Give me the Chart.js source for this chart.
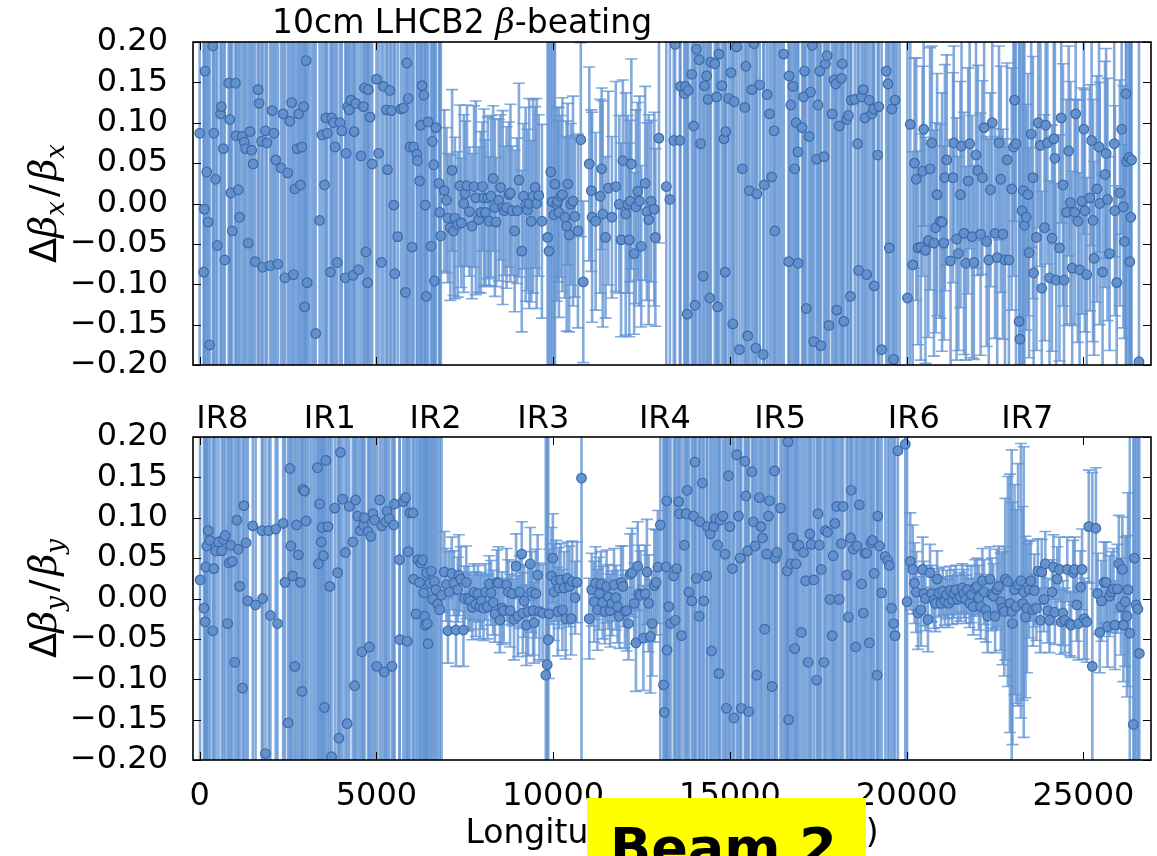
<!DOCTYPE html>
<html>
<head>
<meta charset="utf-8">
<title>10cm LHCB2 β-beating</title>
<script src="https://cdn.jsdelivr.net/npm/chart.js@4/dist/chart.umd.min.js"></script>
<style>
  html, body { margin: 0; padding: 0; background: #fff; }
  #wrap { position: relative; width: 1157px; height: 856px; overflow: hidden; background: #fff; }
  canvas { position: absolute; left: 0; }
  #beam {
    position: absolute; left: 587px; top: 798px; width: 279px; height: 80px;
    background: #ffff00; box-sizing: border-box; padding-left: 23px; padding-top: 23px;
    font: bold 54px "DejaVu Sans", sans-serif; line-height: 54px; color: #000; white-space: nowrap;
  }
</style>
</head>
<body>
<div id="wrap">
  <canvas id="cx" width="1157" height="406" style="top:0;width:1157px;height:406px"></canvas>
  <canvas id="cy" width="1157" height="476" style="top:380px;width:1157px;height:476px"></canvas>
  <div id="beam">Beam 2</div>
</div>
<script>
// Horizontal beta-beating per BPM: [s (m), Δβx/βx, error]; |Δβ/β| > 0.2 lies off the plotted range
const horizontalBpms = [
  [0,0.087,0.5],[110,-0.085,0.5],[130,-0.007,0.5],[150,0.164,0.5],[200,0.039,0.5],[240,-0.023,0.5],[280,-0.175,0.5],[370,0.195,0.5],[400,0.087,0.5],[450,0.03,0.5],
  [500,-0.052,0.5],[590,0.111,0.5],[610,0.12,0.5],[670,0.068,0.5],[710,-0.07,0.5],[820,0.149,0.5],[850,0.104,0.5],[880,0.013,0.5],[920,-0.034,0.5],[1010,0.149,0.5],
  [1030,0.084,0.5],[1090,0.017,0.5],[1130,-0.017,0.5],[1200,0.083,0.5],[1260,0.076,0.5],[1300,0.068,0.5],[1370,-0.049,0.5],[1420,0.089,0.5],[1470,0.066,0.5],[1510,0.049,0.5],
  [1570,-0.072,0.5],[1650,0.141,0.5],[1680,0.124,0.5],[1750,0.077,0.5],[1780,-0.079,0.5],[1860,0.09,0.5],[1900,0.075,0.5],[1990,-0.077,0.5],[2050,0.115,0.5],[2100,0.087,0.5],
  [2150,0.054,0.5],[2210,-0.075,0.5],[2300,0.044,0.5],[2360,0.111,0.5],[2410,-0.092,0.5],[2490,0.038,0.5],[2550,0.102,0.5],[2600,0.125,0.5],[2650,-0.088,0.5],[2690,0.018,0.5],
  [2760,0.068,0.5],[2800,0.111,0.5],[2850,0.023,0.5],[2890,0.07,0.5],[2940,0.12,0.5],[2970,-0.128,0.5],[3010,0.177,0.5],[3040,-0.098,0.5],[3100,0.24,0.5],[3170,-0.23,0.5],
  [3230,0.26,0.5],[3280,-0.161,0.5],[3390,-0.021,0.5],
  [3460,0.085,0.5],[3530,0.023,0.5],[3570,0.106,0.5],[3610,0.087,0.5],[3700,-0.085,0.5],[3730,0.106,0.5],[3780,0.1,0.5],[3830,0.07,0.5],[3890,-0.073,0.5],[3970,0.1,0.5],
  [4020,0.09,0.5],[4120,-0.092,0.5],[4140,0.062,0.5],[4190,0.12,0.5],[4230,0.116,0.5],[4280,0.128,0.5],[4340,-0.089,0.5],[4370,0.089,0.5],[4410,0.124,0.5],[4490,-0.082,0.5],
  [4560,0.059,0.5],[4630,0.12,0.5],[4660,0.143,0.5],[4700,-0.06,0.5],[4750,-0.098,0.5],[4770,0.141,0.5],[4820,0.107,0.5],[4880,0.049,0.5],[5000,0.154,0.5],[5060,0.062,0.5],
  [5140,-0.073,0.5],[5200,0.145,0.5],[5280,0.116,0.5],[5310,0.042,0.5],[5380,0.14,0.5],[5420,0.115,0.5],[5490,-0.002,0.5],[5520,-0.087,0.5],[5600,-0.041,0.5],[5690,0.117,0.5],
  [5760,0.118,0.5],[5820,-0.11,0.5],[5860,0.174,0.5],[5900,0.13,0.5],[5950,0.07,0.5],[6010,-0.054,0.5],[6050,0.07,0.5],[6140,0.061,0.5],[6160,0.053,0.5],[6220,0.028,0.5],
  [6250,0.097,0.5],[6290,0.146,0.5],[6340,0.134,0.5],[6380,-0.002,0.5],[6410,-0.115,0.5],[6460,0.101,0.5],[6540,-0.053,0.5],[6580,0.077,0.5],[6620,0.048,0.5],[6640,-0.096,0.5],
  [6680,0.094,0.5],[6770,0.025,0.5],[6790,-0.011,0.5],[6820,-0.04,0.5],
  [6920,0.016,0.1],[6980,0.004,0.09],[7020,-0.018,0.08],[7090,-0.03,0.09],[7140,0.041,0.1],[7180,-0.034,0.08],[7220,-0.018,0.1],[7300,-0.026,0.09],[7360,0.022,0.1],[7400,-0.024,0.08],
  [7470,0.0,0.11],[7510,0.012,0.09],[7560,0.022,0.1],[7630,-0.01,0.08],[7700,-0.028,0.09],[7760,0.021,0.1],[7810,0.007,0.12],[7890,-0.02,0.09],[7950,-0.011,0.1],[8000,0.021,0.08],
  [8040,0.007,0.11],[8080,-0.011,0.09],[8150,0.007,0.1],[8190,-0.022,0.08],[8240,0.009,0.1],[8300,0.031,0.09],[8350,-0.005,0.11],[8380,-0.023,0.08],[8460,0.004,0.1],[8510,0.02,0.09],
  [8570,-0.005,0.12],[8620,-0.009,0.08],[8680,-0.005,0.1],[8750,0.011,0.09],[8790,0.013,0.11],[8840,-0.009,0.08],[8910,-0.034,0.1],[8980,-0.009,0.09],[9030,0.029,0.12],[9110,-0.059,0.1],
  [9160,0.009,0.09],[9220,-0.001,0.12],[9270,-0.008,0.1],[9320,0.0,0.13],[9380,-0.022,0.1],[9430,0.009,0.12],[9490,0.02,0.1],[9530,0.0,0.13],[9590,0.01,0.1],[9680,-0.022,0.12],
  [9840,-0.042,0.5],[9880,-0.059,0.5],[9930,0.039,0.5],[9970,0.002,0.5],[10020,-0.014,0.5],[10050,0.024,0.5],
  [10100,-0.001,0.12],[10130,0.003,0.1],[10160,-0.011,0.13],[10210,0.009,0.1],[10260,0.011,0.12],[10330,-0.017,0.1],[10380,-0.028,0.13],[10410,0.024,0.1],[10450,-0.039,0.12],[10500,-0.001,0.1],
  [10560,0.003,0.13],[10610,-0.016,0.1],[10700,-0.034,0.12],[10780,0.079,0.12],[10850,-0.097,0.1],[11020,0.049,0.12],[11080,0.016,0.1],[11100,-0.017,0.13],[11200,-0.022,0.11],[11330,0.009,0.12],
  [11370,0.043,0.1],[11400,-0.013,0.14],[11480,-0.042,0.1],[11560,0.019,0.12],[11660,-0.017,0.1],[11770,0.021,0.13],[11870,-0.001,0.11],[11920,-0.045,0.12],[11970,0.053,0.1],[12050,-0.013,0.15],
  [12110,-0.001,0.11],[12150,-0.045,0.12],[12180,0.003,0.1],[12210,0.049,0.13],[12290,-0.062,0.1],[12340,-0.004,0.12],[12390,0.015,0.11],[12440,0.003,0.13],[12490,-0.053,0.1],[12600,0.025,0.12],
  [12650,-0.01,0.11],[12700,-0.02,0.13],[12770,0.003,0.1],[12860,-0.007,0.12],[12890,-0.042,0.11],[12990,0.081,0.13],
  [13200,0.021,0.5],[13300,0.005,0.5],[13410,0.078,0.5],[13450,0.197,0.5],[13580,0.078,0.5],[13600,0.145,0.5],[13710,0.136,0.5],[13740,0.145,0.5],[13790,-0.137,0.5],[13820,0.14,0.5],
  [13920,0.16,0.5],[13970,0.096,0.5],[14010,-0.126,0.5],[14050,0.191,0.5],[14130,0.178,0.5],[14170,0.074,0.5],[14240,-0.09,0.5],[14280,0.146,0.5],[14340,0.158,0.5],[14380,0.129,0.5],
  [14430,-0.117,0.5],[14460,0.175,0.5],[14570,0.173,0.5],[14620,0.132,0.5],[14650,-0.128,0.5],[14690,0.185,0.5],[14770,0.146,0.5],[14830,0.08,0.5],[14860,-0.085,0.5],[14880,0.089,0.5],
  [14960,0.13,0.5],[15030,0.162,0.5],[15080,-0.149,0.5],[15120,0.126,0.5],[15190,0.194,0.5],[15270,-0.181,0.5],[15350,0.043,0.5],[15420,0.119,0.5],[15450,0.17,0.5],[15500,-0.164,0.5],
  [15550,0.016,0.5],[15620,0.141,0.5],[15680,0.198,0.5],[15730,-0.179,0.5],[15760,0.012,0.5],[15840,0.147,0.5],[15940,-0.187,0.5],[15970,0.023,0.5],[16050,0.135,0.5],[16120,0.111,0.5],
  [16180,0.033,0.5],[16250,0.09,0.5],[16270,-0.034,0.5],[16340,0.25,0.5],[16400,-0.24,0.5],[16460,0.23,0.5],[16520,0.185,0.5],[16660,-0.072,0.5],[16670,0.158,0.5],[16720,0.122,0.5],
  [16780,0.145,0.5],[16830,0.043,0.5],[16870,0.1,0.5],
  [16920,0.064,0.5],[16930,-0.074,0.5],[17040,0.094,0.5],[17080,0.132,0.5],[17110,0.164,0.5],[17160,-0.13,0.5],[17240,0.083,0.5],[17280,0.138,0.5],[17330,0.196,0.5],[17370,-0.171,0.5],
  [17450,0.055,0.5],[17490,0.122,0.5],[17540,0.164,0.5],[17570,-0.176,0.5],[17660,0.058,0.5],[17700,0.173,0.5],[17750,0.183,0.5],[17800,-0.151,0.5],[17890,0.111,0.5],[17940,0.153,0.5],
  [17990,0.148,0.5],[18020,-0.132,0.5],[18090,0.096,0.5],[18150,0.155,0.5],[18180,0.173,0.5],[18220,-0.146,0.5],[18300,0.104,0.5],[18350,0.109,0.5],[18410,-0.115,0.5],[18430,0.128,0.5],
  [18530,0.129,0.5],[18610,0.074,0.5],[18640,-0.083,0.5],[18720,0.132,0.5],[18770,0.141,0.5],[18820,0.106,0.5],[18870,-0.088,0.5],[18940,0.128,0.5],[19010,0.111,0.5],[19060,0.117,0.5],
  [19080,-0.102,0.5],[19180,0.06,0.5],[19210,0.12,0.5],[19290,-0.181,0.5],[19420,0.164,0.5],[19470,0.148,0.5],[19510,-0.055,0.5],[19580,0.117,0.5],[19630,-0.193,0.5],[19670,0.128,0.5],
  [19730,-0.25,0.5],[19800,0.24,0.5],
  [20020,-0.117,0.4],[20100,0.098,0.3],
  [20170,-0.076,0.14],[20220,0.05,0.13],[20270,0.03,0.15],[20320,-0.055,0.12],[20400,-0.054,0.14],[20450,0.04,0.13],[20480,0.092,0.12],[20530,-0.058,0.14],[20610,-0.046,0.12],[20660,0.043,0.15],
  [20710,0.075,0.12],[20770,-0.049,0.14],[20820,-0.03,0.13],[20860,0.011,0.15],[20950,-0.022,0.12],[21000,-0.023,0.16],[21050,-0.049,0.12],[21080,0.032,0.14],[21130,0.054,0.13],[21240,-0.071,0.15],
  [21310,0.032,0.13],[21330,0.075,0.12],[21410,-0.044,0.15],[21460,-0.062,0.12],[21520,0.011,0.14],[21550,0.071,0.13],[21620,-0.037,0.15],[21670,-0.074,0.12],[21740,0.028,0.14],[21780,0.074,0.13],
  [21850,-0.041,0.15],[21900,-0.073,0.12],[21960,0.06,0.14],[22010,0.041,0.13],[22090,-0.038,0.15],[22140,0.032,0.12],[22190,0.094,0.14],[22260,-0.047,0.13],[22320,-0.07,0.15],[22370,0.017,0.12],
  [22420,0.1,0.14],[22500,-0.037,0.13],[22560,-0.067,0.15],[22610,0.075,0.12],[22660,0.03,0.14],[22720,-0.038,0.13],[22780,-0.07,0.15],[22840,0.054,0.12],[22890,-0.07,0.14],[22970,0.018,0.15],
  [23020,0.07,0.16],[23050,0.128,0.15],[23090,0.074,0.4],[23180,-0.146,0.4],[23200,-0.168,0.4],[23260,-0.009,0.4],[23300,0.016,0.4],[23330,-0.027,0.4],
  [23380,-0.017,0.14],[23430,0.011,0.15],[23460,-0.061,0.13],[23520,0.086,0.14],[23570,0.032,0.15],[23590,-0.086,0.12],[23670,-0.042,0.14],[23720,0.1,0.13],[23780,0.072,0.15],[23820,-0.105,0.12],
  [23900,-0.03,0.14],[23930,0.097,0.13],[23980,0.075,0.15],[24040,-0.092,0.12],[24110,-0.043,0.14],[24160,0.08,0.13],[24190,0.056,0.15],[24230,-0.095,0.12],[24320,-0.055,0.14],[24370,0.106,0.13],
  [24420,0.023,0.15],[24450,-0.095,0.12],[24520,-0.011,0.14],[24580,0.065,0.13],[24630,0.001,0.15],[24680,-0.08,0.12],[24750,-0.011,0.14],[24780,0.111,0.13],[24840,-0.022,0.15],[24890,-0.082,0.12],
  [24960,0.003,0.14],[25010,0.092,0.13],[25040,-0.009,0.15],[25090,-0.088,0.12],[25180,0.007,0.14],[25230,0.078,0.13],[25270,-0.021,0.15],[25300,-0.068,0.12],[25380,0.018,0.14],[25440,0.07,0.13],
  [25460,0.0,0.15],[25540,-0.085,0.12],[25610,0.036,0.14],[25640,0.062,0.13],[25680,0.005,0.15],[25740,-0.062,0.12],[25870,0.074,0.14],[25890,-0.009,0.13],[25940,-0.098,0.12],[26030,0.013,0.14],
  [26080,0.092,0.13],[26130,-0.004,0.15],[26160,-0.047,0.12],
  [26200,0.136,0.5],[26220,0.052,0.5],[26290,0.057,0.5],[26310,-0.072,0.5],[26340,-0.017,0.5],[26360,0.054,0.5],[26570,-0.196,0.5]
];

// Vertical beta-beating per BPM: [s (m), Δβy/βy, error]; |Δβ/β| > 0.2 lies off the plotted range
const verticalBpms = [
  [10,0.023,0.5],[120,-0.012,0.5],[150,-0.029,0.5],[170,0.039,0.5],[200,0.065,0.5],[240,0.084,0.5],[290,0.072,0.5],[370,-0.04,0.5],[400,0.037,0.5],[450,0.059,0.5],
  [530,0.07,0.5],[620,0.059,0.5],[670,0.073,0.5],[720,0.078,0.5],[790,-0.031,0.5],[830,0.044,0.5],[880,0.066,0.5],[920,0.046,0.5],[990,-0.079,0.5],[1050,0.097,0.5],
  [1090,0.061,0.5],[1130,0.015,0.5],[1210,-0.111,0.5],[1250,0.115,0.5],[1310,0.069,0.5],[1360,-0.003,0.5],[1500,0.09,0.5],[1580,-0.008,0.5],[1760,0.084,0.5],[1780,0.0,0.5],
  [1860,-0.192,0.5],[1950,0.084,0.5],[2000,-0.021,0.5],[2150,0.086,0.5],[2200,-0.031,0.5],[2360,0.093,0.5],[2410,0.02,0.5],[2500,-0.154,0.5],[2550,0.161,0.5],[2580,0.065,0.5],
  [2630,0.028,0.5],[2690,-0.084,0.5],[2740,0.091,0.5],[2790,0.054,0.5],[2850,0.02,0.5],[2890,-0.115,0.5],[2920,0.135,0.5],[2970,0.133,0.5],[3010,0.096,0.5],[3070,0.24,0.5],
  [3140,-0.25,0.5],[3210,0.23,0.5],[3270,-0.22,0.5],[3330,0.162,0.5],
  [3360,0.043,0.5],[3390,0.117,0.5],[3440,0.07,0.5],[3460,0.088,0.5],[3500,0.053,0.5],[3530,-0.135,0.5],[3570,0.171,0.5],[3630,0.089,0.5],[3680,0.015,0.5],[3730,-0.196,0.5],
  [3820,0.112,0.5],[3900,0.032,0.5],[3940,-0.173,0.5],[3980,0.181,0.5],[4040,0.123,0.5],[4120,0.057,0.5],[4170,-0.155,0.5],[4230,0.114,0.5],[4330,0.07,0.5],[4380,-0.108,0.5],
  [4410,0.122,0.5],[4470,0.102,0.5],[4540,0.084,0.5],[4590,-0.066,0.5],[4630,0.091,0.5],[4660,0.1,0.5],[4760,0.083,0.5],[4800,-0.06,0.5],[4840,0.077,0.5],[4900,0.105,0.5],
  [4950,0.097,0.5],[5010,-0.084,0.5],[5090,0.122,0.5],[5150,0.09,0.5],[5220,-0.091,0.5],[5260,0.095,0.5],[5300,0.108,0.5],[5360,0.099,0.5],[5440,-0.084,0.5],[5490,0.091,0.5],
  [5510,0.117,0.5],[5650,0.048,0.5],[5660,-0.051,0.5],[5760,0.12,0.5],[5820,0.125,0.5],[5870,-0.053,0.5],[5900,0.058,0.5],[5950,0.106,0.5],[6030,0.106,0.5],[6050,0.024,0.5],
  [6120,-0.019,0.5],[6170,0.048,0.5],[6220,0.02,0.5],[6250,0.044,0.5],[6300,0.048,0.5],[6340,0.007,0.5],[6360,-0.022,0.5],[6380,-0.033,0.5],[6420,0.032,0.5],[6440,-0.031,0.5],
  [6460,-0.056,0.5],[6510,0.019,0.5],[6550,0.034,0.5],[6590,-0.001,0.5],[6640,0.021,0.5],[6680,0.011,0.5],[6730,-0.007,0.5],[6790,-0.014,0.5],[6840,0.004,0.5],
  [6920,0.033,0.05],[6980,0.017,0.045],[7020,-0.04,0.04],[7060,0.008,0.05],[7130,0.031,0.045],[7190,0.019,0.04],[7250,-0.039,0.045],[7300,0.011,0.04],[7330,0.029,0.05],[7380,0.024,0.04],
  [7460,-0.039,0.045],[7490,0.0,0.04],[7540,0.02,0.045],[7600,0.0,0.04],[7650,-0.003,0.035],[7710,-0.011,0.04],[7760,0.008,0.035],[7810,-0.007,0.04],[7870,0.006,0.035],[7920,-0.01,0.04],
  [7970,-0.003,0.035],[8030,-0.012,0.04],[8080,0.008,0.035],[8140,-0.01,0.04],[8190,0.018,0.035],[8240,0.007,0.04],[8300,-0.005,0.04],[8350,-0.019,0.035],[8410,0.02,0.04],[8450,0.019,0.045],
  [8490,-0.027,0.04],[8550,-0.012,0.045],[8600,-0.015,0.04],[8680,0.017,0.045],[8730,0.008,0.04],[8780,-0.015,0.045],[8840,0.006,0.04],[8890,-0.026,0.05],[8950,0.04,0.04],[9000,-0.022,0.05],
  [9050,0.008,0.045],[9110,0.055,0.04],[9140,-0.018,0.05],[9180,-0.003,0.045],[9240,-0.033,0.05],[9290,-0.016,0.055],[9350,0.043,0.045],[9380,0.008,0.05],[9430,-0.015,0.055],[9460,-0.03,0.05],
  [9510,0.006,0.055],[9560,0.029,0.05],[9610,-0.016,0.06],[9700,-0.018,0.06],
  [9790,-0.095,0.5],[9830,-0.082,0.5],[9860,-0.051,0.5],[9880,-0.019,0.08],
  [9950,0.028,0.06],[9990,0.05,0.055],[10020,0.008,0.06],[10080,0.022,0.05],[10130,-0.016,0.055],[10160,0.013,0.05],[10210,0.023,0.045],[10260,-0.014,0.05],[10310,0.013,0.045],[10350,-0.025,0.05],
  [10400,0.025,0.045],[10460,0.015,0.05],[10510,-0.025,0.045],[10540,0.021,0.05],[10620,0.001,0.045],[10670,0.02,0.05],[10800,0.149,0.5],
  [11020,-0.025,0.05],[11090,0.011,0.045],[11160,-0.004,0.05],[11200,0.019,0.045],[11250,-0.014,0.05],[11300,0.006,0.045],[11350,0.018,0.04],[11400,-0.005,0.045],[11460,-0.016,0.04],[11510,0.015,0.045],
  [11560,0.002,0.04],[11610,-0.015,0.045],[11660,-0.006,0.04],[11720,0.017,0.045],[11770,0.001,0.04],[11820,-0.01,0.045],[11870,-0.022,0.04],[11920,0.02,0.045],[11970,0.015,0.05],[12030,-0.016,0.045],
  [12080,-0.015,0.05],[12130,-0.031,0.045],[12180,0.03,0.05],[12230,0.032,0.055],[12290,-0.006,0.05],[12340,-0.055,0.06],[12390,0.04,0.055],[12420,0.006,0.06],[12470,0.004,0.055],[12550,-0.049,0.065],
  [12600,0.006,0.06],[12650,0.033,0.065],[12700,-0.006,0.06],[12750,-0.047,0.07],[12800,-0.031,0.065],[12860,0.016,0.07],[12910,0.02,0.065],[12960,0.039,0.07],
  [13030,0.091,0.5],[13120,-0.107,0.5],[13140,-0.141,0.5],[13190,0.039,0.5],[13210,0.121,0.5],[13220,-0.064,0.5],[13270,-0.01,0.5],[13320,-0.031,0.5],[13410,0.028,0.5],[13450,-0.027,0.5],
  [13490,0.037,0.5],[13550,0.12,0.5],[13570,0.105,0.5],[13630,-0.046,0.5],[13710,0.066,0.5],[13760,0.105,0.5],[13790,0.134,0.5],[13840,0.008,0.5],[13920,-0.003,0.5],[13970,0.102,0.5],
  [14010,0.169,0.5],[14050,0.025,0.5],[14130,-0.022,0.5],[14150,0.095,0.5],[14220,0.143,0.5],[14260,-0.003,0.5],[14340,0.028,0.5],[14360,0.089,0.5],[14440,0.08,0.5],[14480,-0.065,0.5],
  [14540,0.089,0.5],[14590,0.099,0.5],[14650,0.066,0.5],[14690,-0.093,0.5],[14720,0.097,0.5],[14800,0.102,0.5],[14860,0.055,0.5],[14900,-0.136,0.5],[14960,0.152,0.5],[15000,0.089,0.5],
  [15070,0.037,0.5],[15110,-0.148,0.5],[15190,0.178,0.5],[15240,0.102,0.5],[15290,0.05,0.5],[15320,-0.136,0.5],[15420,0.17,0.5],[15450,0.127,0.5],[15500,0.059,0.5],[15530,-0.14,0.5],
  [15620,0.157,0.5],[15660,0.095,0.5],[15710,0.065,0.5],[15760,-0.095,0.5],[15830,0.125,0.5],[15880,0.089,0.5],[15920,0.075,0.5],[15980,-0.038,0.5],[16040,0.055,0.5],[16090,0.102,0.5],
  [16120,0.121,0.5],[16190,-0.109,0.5],[16260,0.158,0.5],[16280,0.05,0.5],[16330,0.057,0.5],[16430,0.112,0.5],[16480,0.24,0.5],[16540,-0.23,0.5],[16580,0.25,0.5],[16620,0.034,0.5],
  [16640,0.194,0.5],[16660,-0.15,0.5],[16720,0.043,0.5],
  [16780,0.075,0.5],[16830,-0.062,0.5],[16870,0.043,0.5],[16900,0.065,0.5],[16950,0.066,0.5],[17020,-0.042,0.5],[17080,0.057,0.5],[17140,0.022,0.5],[17210,-0.079,0.5],[17260,0.08,0.5],
  [17300,0.067,0.5],[17370,0.023,0.5],[17450,-0.101,0.5],[17490,0.105,0.5],[17530,0.066,0.5],[17580,0.036,0.5],[17660,-0.079,0.5],[17700,0.084,0.5],[17760,0.082,0.5],[17830,-0.001,0.5],
  [17890,-0.046,0.5],[17920,0.053,0.5],[17970,0.093,0.5],[18020,0.114,0.5],[18090,-0.001,0.5],[18150,0.068,0.5],[18200,0.114,0.5],[18300,0.029,0.5],[18350,-0.023,0.5],[18410,0.075,0.5],
  [18430,0.134,0.5],[18490,0.061,0.5],[18560,-0.06,0.5],[18590,0.065,0.5],[18660,0.116,0.5],[18720,0.018,0.5],[18770,-0.018,0.5],[18820,0.056,0.5],[18870,0.056,0.5],[18940,-0.055,0.5],
  [18990,0.069,0.5],[19030,0.072,0.5],[19080,0.031,0.5],[19160,-0.095,0.5],[19180,0.102,0.5],[19230,0.065,0.5],[19290,0.007,0.5],[19390,0.052,0.5],[19460,0.047,0.5],[19510,0.041,0.5],
  [19570,-0.012,0.5],[19630,-0.031,0.5],[19670,-0.046,0.5],[19750,0.183,0.5],[19960,0.191,0.5],[20010,-0.004,0.5],
  [20100,0.046,0.06],[20170,0.036,0.055],[20220,0.019,0.05],[20270,0.008,0.05],[20320,-0.018,0.045],[20400,-0.014,0.045],[20450,0.036,0.04],[20480,0.006,0.04],[20530,0.0,0.04],[20600,-0.026,0.04],
  [20660,0.032,0.035],[20710,0.006,0.035],[20770,-0.002,0.035],[20810,-0.006,0.035],[20860,0.024,0.035],[20910,0.007,0.03],[20970,-0.006,0.03],[21020,0.009,0.03],[21080,-0.003,0.03],[21130,0.005,0.03],
  [21180,-0.006,0.03],[21230,0.01,0.03],[21290,-0.002,0.03],[21330,0.006,0.03],[21390,0.011,0.03],[21440,-0.001,0.03],[21520,0.002,0.03],[21570,0.013,0.03],[21620,0.006,0.03],[21670,-0.001,0.03],
  [21720,0.011,0.03],[21780,-0.006,0.03],[21830,0.005,0.035],[21880,-0.01,0.035],[21930,0.013,0.035],[21990,0.015,0.035],[22040,0.001,0.04],[22090,-0.01,0.04],[22140,0.022,0.04],[22190,0.008,0.04],
  [22240,-0.014,0.04],[22290,-0.022,0.045],[22350,0.024,0.04],[22400,0.005,0.045],[22450,0.003,0.04],[22500,-0.022,0.045],[22550,0.011,0.05],[22600,0.015,0.05],[22660,-0.004,0.06],[22710,-0.012,0.07],
  [22760,-0.016,0.08],[22790,0.024,0.1],[22860,0.021,0.13],[22920,-0.006,0.16],[22970,-0.016,0.2],[22990,-0.031,0.15],[23050,0.011,0.13],[23090,-0.01,0.12],[23150,0.017,0.15],[23230,0.022,0.17],
  [23280,-0.006,0.12],[23310,0.008,0.18],[23360,-0.023,0.1],[23400,-0.012,0.08],[23460,0.011,0.06],[23510,0.022,0.05],[23570,-0.014,0.045],[23610,0.01,0.045],[23670,-0.012,0.04],[23710,0.034,0.04],
  [23780,-0.027,0.04],[23820,0.033,0.04],[23880,-0.001,0.04],[23920,0.043,0.04],[23990,-0.015,0.04],[24040,-0.027,0.04],[24110,0.008,0.04],[24150,0.039,0.04],[24190,-0.017,0.04],[24260,0.024,0.04],
  [24320,0.036,0.04],[24370,-0.029,0.04],[24420,-0.018,0.04],[24470,-0.027,0.04],[24540,0.036,0.04],[24610,-0.031,0.04],[24650,-0.033,0.04],[24710,0.032,0.04],[24750,0.036,0.04],[24810,-0.008,0.045],
  [24860,-0.031,0.045],[24920,0.014,0.045],[24960,0.036,0.05],[25020,-0.025,0.05],[25090,-0.029,0.05],[25150,0.089,0.07],[25250,-0.084,0.24],[25350,0.087,0.075],[25400,0.006,0.05],[25460,-0.042,0.05],
  [25510,-0.003,0.05],[25580,0.02,0.05],[25640,0.02,0.05],[25680,-0.035,0.05],[25740,0.003,0.05],[25790,0.008,0.05],[25850,0.012,0.05],[25890,-0.033,0.055],[25960,0.012,0.055],[26000,0.043,0.06],
  [26060,-0.01,0.06],[26100,0.036,0.065],[26130,-0.033,0.07],[26180,-0.004,0.08],[26230,-0.022,0.1],[26260,0.011,0.12],
  [26310,-0.043,0.3],[26410,-0.156,0.5],[26440,0.05,0.5],[26490,-0.008,0.5],[26540,-0.013,0.5],[26580,-0.068,0.5]
];

const xTickValues = [0, 5000, 10000, 15000, 20000, 25000];
const yTickValues = [-0.2, -0.15, -0.1, -0.05, 0, 0.05, 0.1, 0.15, 0.2];
const irNames = ['IR8', 'IR1', 'IR2', 'IR3', 'IR4', 'IR5', 'IR6', 'IR7'];
const irPositions = [640, 3680, 6670, 9720, 13160, 16420, 20200, 23410];

const S_MIN = -190, S_MAX = 26910;
const FONT = '"DejaVu Sans", sans-serif';
const MATH = '"DejaVu Serif", serif';
const BAR_COLOR = 'rgba(96,146,210,0.78)';
const POINT_FILL = 'rgba(98,143,204,0.95)';
const POINT_EDGE = '#3b6aa8';

function fmtY(v) {
  const t = Math.abs(v) < 1e-9 ? '0.00' : v.toFixed(2);
  return t.replace('-', '\u2212');
}

// Draw a run of text pieces with their own fonts / baseline shifts
function drawRuns(ctx, runs, x, y, align) {
  let w = 0;
  for (const r of runs) { ctx.font = r.font; w += ctx.measureText(r.text).width + (r.gap || 0); }
  let cx = align === 'center' ? x - w / 2 : x;
  ctx.textBaseline = 'alphabetic';
  ctx.textAlign = 'left';
  for (const r of runs) {
    ctx.font = r.font;
    ctx.fillText(r.text, cx, y + (r.dy || 0));
    cx += ctx.measureText(r.text).width + (r.gap || 0);
  }
}

function axisLabelRuns(sub) {
  return [
    { text: '\u0394', font: `37px ${FONT}` },
    { text: '\u03b2', font: `italic 38px ${MATH}` },
    { text: sub, font: `italic 26px ${MATH}`, dy: 8, gap: 4 },
    { text: '/', font: `37px ${FONT}`, gap: 4 },
    { text: '\u03b2', font: `italic 38px ${MATH}` },
    { text: sub, font: `italic 26px ${MATH}`, dy: 8 }
  ];
}

// Error bars drawn beneath the markers, clipped to the plot area
function errorBarPlugin(rows) {
  return {
    id: 'errorBars',
    beforeDatasetsDraw(chart) {
      const { ctx, chartArea: a, scales: { x, y } } = chart;
      ctx.save();
      ctx.beginPath();
      ctx.rect(a.left, a.top, a.right - a.left, a.bottom - a.top);
      ctx.clip();
      ctx.strokeStyle = BAR_COLOR;
      const cap = 6;
      for (const [s, v, e] of rows) {
        const px = x.getPixelForValue(s);
        const yHi = y.getPixelForValue(v + e);
        const yLo = y.getPixelForValue(v - e);
        ctx.lineWidth = 2.6;
        ctx.beginPath();
        ctx.moveTo(px, yHi); ctx.lineTo(px, yLo);
        ctx.stroke();
        ctx.lineWidth = 1.6;
        ctx.beginPath();
        ctx.moveTo(px - cap, yHi); ctx.lineTo(px + cap, yHi);
        ctx.moveTo(px - cap, yLo); ctx.lineTo(px + cap, yLo);
        ctx.stroke();
      }
      ctx.restore();
    }
  };
}

// Frame, inward tick marks and free text for each panel
function framePlugin(extra) {
  return {
    id: 'frame',
    afterDraw(chart) {
      const { ctx, chartArea: a, scales: { x, y } } = chart;
      ctx.save();
      ctx.strokeStyle = '#000';
      ctx.lineWidth = 1;
      const tl = 8;
      ctx.beginPath();
      for (const t of xTickValues) {
        const px = Math.round(x.getPixelForValue(t)) + 0.5;
        ctx.moveTo(px, a.bottom); ctx.lineTo(px, a.bottom - tl);
        ctx.moveTo(px, a.top); ctx.lineTo(px, a.top + tl);
      }
      for (const t of yTickValues) {
        const py = Math.round(y.getPixelForValue(t)) + 0.5;
        ctx.moveTo(a.left, py); ctx.lineTo(a.left + tl, py);
        ctx.moveTo(a.right, py); ctx.lineTo(a.right - tl, py);
      }
      ctx.stroke();
      ctx.lineWidth = 1.6;
      ctx.strokeRect(a.left, a.top, a.right - a.left, a.bottom - a.top);
      ctx.fillStyle = '#000';
      extra(ctx, chart);
      ctx.restore();
    }
  };
}

function makeChart(canvasId, rows, showXTicks, padding, xHeight, extra) {
  return new Chart(document.getElementById(canvasId), {
    type: 'scatter',
    data: {
      datasets: [{
        data: rows.map(r => ({ x: r[0], y: r[1] })),
        pointRadius: 4.8,
        pointBackgroundColor: POINT_FILL,
        pointBorderColor: POINT_EDGE,
        pointBorderWidth: 1.2,
        pointHoverRadius: 4.8
      }]
    },
    options: {
      responsive: false,
      animation: false,
      devicePixelRatio: 1,
      clip: { left: 0, top: 0, right: 0, bottom: 0 },
      layout: { padding },
      events: [],
      plugins: { legend: { display: false }, tooltip: { enabled: false }, title: { display: false } },
      scales: {
        x: {
          type: 'linear', min: S_MIN, max: S_MAX,
          afterBuildTicks: sc => { sc.ticks = xTickValues.map(v => ({ value: v })); },
          afterFit: sc => { sc.height = xHeight; },
          grid: { display: false, drawTicks: false },
          border: { display: false },
          ticks: {
            display: showXTicks, autoSkip: false, maxRotation: 0, padding: 21,
            color: '#000', font: { family: FONT, size: 32, lineHeight: 1 },
            callback: v => String(v)
          }
        },
        y: {
          type: 'linear', min: -0.2, max: 0.2,
          afterBuildTicks: sc => { sc.ticks = yTickValues.map(v => ({ value: v })); },
          afterFit: sc => { sc.width = 193; },
          grid: { display: false, drawTicks: false },
          border: { display: false },
          ticks: {
            padding: 25, color: '#000', font: { family: FONT, size: 32, lineHeight: 1 },
            callback: v => fmtY(v)
          }
        }
      }
    },
    plugins: [errorBarPlugin(rows), framePlugin(extra)]
  });
}

// Top panel: horizontal plane
makeChart('cx', horizontalBpms, false, { top: 42, right: 3, bottom: 17, left: 0 }, 0, (ctx, chart) => {
  drawRuns(ctx, [
    { text: '10cm LHCB2 ', font: `33px ${FONT}` },
    { text: '\u03b2', font: `italic 34px ${MATH}` },
    { text: '-beating', font: `33px ${FONT}` }
  ], 272, 33, 'left');
  const a = chart.chartArea;
  ctx.save();
  ctx.translate(56, (a.top + a.bottom) / 2);
  ctx.rotate(-Math.PI / 2);
  drawRuns(ctx, axisLabelRuns('x'), 0, 0, 'center');
  ctx.restore();
});

// Bottom panel: vertical plane, with IR markers and the s axis
makeChart('cy', verticalBpms, true, { top: 57, right: 3, bottom: 0, left: 0 }, 96, (ctx, chart) => {
  const a = chart.chartArea;
  const x = chart.scales.x;
  ctx.font = `32px ${FONT}`;
  ctx.textAlign = 'center';
  ctx.textBaseline = 'alphabetic';
  irNames.forEach((name, i) => ctx.fillText(name, x.getPixelForValue(irPositions[i]), 48));
  ctx.font = `33px ${FONT}`;
  ctx.fillText('Longitudinal location (m)', (a.left + a.right) / 2, 463);
  ctx.save();
  ctx.translate(56, (a.top + a.bottom) / 2);
  ctx.rotate(-Math.PI / 2);
  drawRuns(ctx, axisLabelRuns('y'), 0, 0, 'center');
  ctx.restore();
});
</script>
</body>
</html>
